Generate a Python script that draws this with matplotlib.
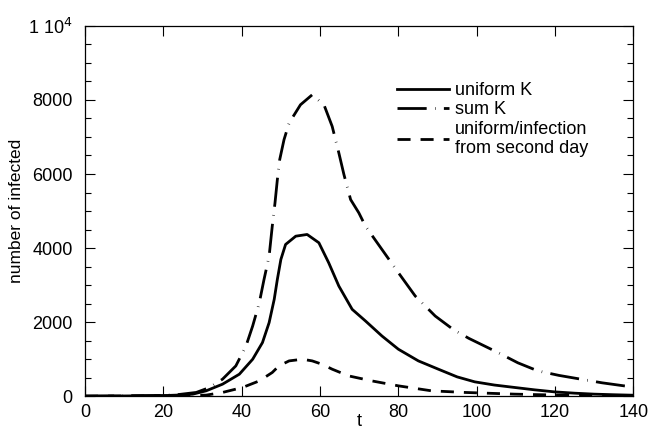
import numpy as np
import matplotlib
matplotlib.use("Agg")
import matplotlib.pyplot as plt
from matplotlib.ticker import MultipleLocator, FixedLocator

plt.rcParams["font.family"] = ["Liberation Sans", "DejaVu Sans"]

# ── data ─────────────────────────────────────────────────────
t_uniform = [0, 10, 20, 24, 27.5, 30.9, 35.1, 39.4, 42.8, 45.3, 47.0, 48.3, 49.1,
             50.0, 51.2, 53.8, 56.7, 59.7, 62.2, 64.8, 68.2, 71.6, 75.8, 80,
             85.1, 90.2, 95, 99.5, 104.5, 109.7, 114.8, 119.8, 125, 130, 135, 140]
n_uniform = [0, 5, 15, 30, 54, 143, 323, 593, 997, 1447, 1986, 2615, 3154,
             3693, 4097, 4321, 4367, 4143, 3604, 2973, 2345, 2030, 1625, 1267,
             952, 728, 520, 386, 300, 234, 170, 116, 80, 54, 38, 25]

t_sum = [0, 10, 20, 24, 28.4, 31.8, 35.1, 38.5, 41.1, 42.8, 44.5, 45.7, 47.0,
         47.8, 48.5, 49.1, 49.7, 50.8, 52.1, 55.0, 58.0, 61.0, 63.1, 64.8,
         66.1, 67.8, 69.9, 71.6, 75.8, 80, 84.3, 89.4, 94, 98, 105.4, 110.5,
         115.6, 121, 126.6, 132, 137.6, 140]
n_sum = [0, 5, 20, 45, 100, 234, 458, 817, 1356, 1895, 2526, 3154, 3782,
         4590, 5221, 5849, 6388, 6927, 7377, 7870, 8140, 7870, 7286, 6568,
         5984, 5310, 4951, 4590, 3962, 3334, 2704, 2164, 1800, 1560, 1178, 900,
         682, 560, 458, 360, 278, 250]

t_second = [0, 10, 20, 25, 30.9, 35.1, 40.2, 44.5, 47.8, 49.5, 52.1, 55.5,
            58.0, 60.5, 63.1, 67.3, 73.2, 80, 88.5, 97, 109.7, 120, 130, 140]
n_second = [0, 3, 8, 15, 27, 100, 234, 412, 639, 817, 952, 997,
            952, 862, 728, 547, 412, 278, 143, 100, 54, 30, 15, 8]

x_ticks = [0, 20, 40, 60, 80, 100, 120, 140]
y_ticks = [0, 2000, 4000, 6000, 8000, 10000]
y_tick_labels = ["0", "2000", "4000", "6000", "8000", r"1 10$^4$"]

# ── figure ───────────────────────────────────────────────────
fig = plt.figure(figsize=(6.49, 4.32), dpi=100)
ax = fig.add_axes([0.131, 0.083, 0.845, 0.857])

line_kw = dict(color="black", lw=2.0, solid_joinstyle="round",
               dash_joinstyle="round")
ax.plot(t_uniform, n_uniform, label="uniform K", **line_kw)
ax.plot(t_sum, n_sum, dashes=(10.5, 3, 0.2, 3), label="sum K", **line_kw)
ax.plot(t_second, n_second, dashes=(4.7, 3.6),
        label="uniform/infection\nfrom second day", **line_kw)

ax.set_xlim(0, 140)
ax.set_ylim(0, 10000)
ax.xaxis.set_major_locator(FixedLocator(x_ticks))
ax.yaxis.set_major_locator(FixedLocator(y_ticks))
ax.set_yticklabels(y_tick_labels)
ax.yaxis.set_minor_locator(MultipleLocator(500))

ax.tick_params(which="both", direction="in", top=True, right=True,
               labelsize=13, width=0.8)
ax.tick_params(which="major", length=7)
ax.tick_params(which="minor", length=4)
ax.tick_params(axis="x", pad=6)
ax.tick_params(axis="y", pad=9)
for sp in ax.spines.values():
    sp.set_linewidth(0.9)

ax.set_xlabel("t", fontsize=13, labelpad=-6)
ax.set_ylabel("number of infected", fontsize=12.5, labelpad=3)

ax.legend(loc="upper left", bbox_to_anchor=(0.568, 0.848), frameon=False,
          fontsize=13, handlelength=2.9, handletextpad=0.35,
          labelspacing=0.12, borderaxespad=0, borderpad=0)

fig.savefig("out.png", dpi=100)
